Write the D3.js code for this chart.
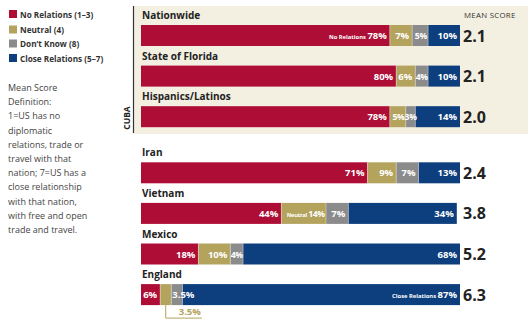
<!DOCTYPE html>
<html>
<head>
<meta charset="utf-8">
<script src="https://cdn.jsdelivr.net/npm/d3@7"></script>
<style>
  html, body { margin: 0; padding: 0; background: #fff; }
  svg { display: block; }
  text { font-family: "Open Sans", "DejaVu Sans", sans-serif; }
</style>
</head>
<body>
<svg id="chart" width="528" height="321"></svg>
<script>
// Survey groups and response shares (percent)
const groups = ["Nationwide", "State of Florida", "Hispanics/Latinos", "Iran", "Vietnam", "Mexico", "England"];
const noRelations = [78, 80, 78, 71, 44, 18, 6];
const neutral = [7, 6, 5, 9, 14, 10, 3.5];
const dontKnow = [5, 4, 3, 7, 7, 4, 3.5];
const closeRelations = [10, 10, 14, 13, 34, 68, 87];
const meanScores = ["2.1", "2.1", "2.0", "2.4", "3.8", "5.2", "6.3"];

// Segment labels; prefixes are printed in small type before the share
const segmentNames = ["No Relations (1–3)", "Neutral (4)", "Don’t Know (8)", "Close Relations (5–7)"];
const prefixes = [
  ["No Relations", null, null, null],
  [null, null, null, null],
  [null, null, null, null],
  [null, null, null, null],
  [null, "Neutral", null, null],
  [null, null, null, null],
  [null, null, null, "Close Relations"]
];
const definitionLines = [
  "Mean Score", "Definition:", "1=US has no", "diplomatic", "relations, trade or",
  "travel with that", "nation; 7=US has a", "close relationship",
  "with that nation,", "with free and open", "trade and travel."
];

const colors = ["#ae0e36", "#b3a35c", "#8c8b8b", "#0d3e7d"];

const svg = d3.select("#chart");

// Horizontal scale for shares
const x = d3.scaleLinear().domain([0, 100]).range([141, 460]);
// Vertical position of each row (Cuba group, then the other countries after a gap)
const rowY = d3.scaleLinear().domain([0, 1]).range([25, 65.6]);
const barTop = i => rowY(i) + (i >= 3 ? 15.5 : 0);
const barH = 21;

// Cuba panel background
svg.append("rect").attr("x", 134).attr("y", 6).attr("width", 394).attr("height", 128).attr("fill", "#f3efe1");
svg.append("line").attr("x1", 133.5).attr("x2", 133.5).attr("y1", 6).attr("y2", 133).attr("stroke", "#333").attr("stroke-width", 1.2);
svg.append("text")
  .attr("transform", "translate(130,118) rotate(-90)")
  .attr("text-anchor", "middle")
  .attr("font-size", 8.5).attr("font-weight", 700).attr("fill", "#222")
  .text("CUBA");

svg.append("text").attr("x", 464).attr("y", 18)
  .attr("font-size", 7.8).attr("fill", "#333").attr("letter-spacing", 0.3)
  .text("MEAN SCORE");

// Legend
const legend = svg.append("g");
segmentNames.forEach((name, k) => {
  const ly = [15, 30.5, 44.5, 59][k];
  legend.append("rect").attr("x", 9).attr("y", ly - 5).attr("width", 8).attr("height", 8).attr("fill", colors[k]);
  legend.append("text").attr("x", 20).attr("y", ly + 2.5)
    .attr("font-size", 8.2).attr("font-weight", 700).attr("fill", "#333").text(name);
});
definitionLines.forEach((line, k) => {
  svg.append("text").attr("x", 8).attr("y", 91 + k * 14.2)
    .attr("font-size", 9).attr("fill", "#444").text(line);
});

// Rows
const seriesList = [noRelations, neutral, dontKnow, closeRelations];
groups.forEach((g, i) => {
  const top = barTop(i);
  const row = svg.append("g");
  const bars = row.append("g");
  const labels = row.append("g");
  row.append("text").attr("x", 142).attr("y", top - 6)
    .attr("font-size", 10).attr("font-weight", 700).attr("fill", "#222").text(g);

  let cum = 0;
  seriesList.forEach((series, k) => {
    const v = series[i];
    const x0 = x(cum), x1 = x(cum + v);
    cum += v;
    bars.append("rect").attr("x", x0).attr("y", top).attr("width", x1 - x0).attr("height", barH)
      .attr("fill", colors[k]);
    if (k > 0) {
      bars.append("line").attr("x1", x0).attr("x2", x0).attr("y1", top).attr("y2", top + barH)
        .attr("stroke", "rgba(255,255,255,0.45)").attr("stroke-width", 0.8);
    }
    // England's neutral share is labelled below the bar
    if (i === 6 && k === 1) return;
    const t = labels.append("text").attr("y", top + barH / 2 + 3.5)
      .attr("font-size", 9.5).attr("font-weight", 700).attr("fill", "#fff");
    const p = prefixes[i][k];
    if (p) t.append("tspan").attr("font-size", 5.8).text(p + " ");
    t.append("tspan").text(v + "%");
    if (i === 6 && k === 2) {
      t.attr("x", x0 + 1).attr("text-anchor", "start");
      return;
    }
    let w = t.node().getComputedTextLength();
    const segW = x1 - x0;
    if (w + 5 <= segW) {
      t.attr("x", x1 - 3).attr("text-anchor", "end");
    } else {
      // narrow segment: tighten and centre the label
      t.attr("font-size", 8.6).attr("letter-spacing", -0.3);
      w = t.node().getComputedTextLength();
      if (w + 2 <= segW) {
        t.attr("x", x1 - 1.2).attr("text-anchor", "end");
      } else {
        t.attr("x", (x0 + x1) / 2).attr("text-anchor", "middle");
      }
    }
  });

  row.append("text").attr("x", 463).attr("y", top + barH / 2 + 6)
    .attr("font-size", 16).attr("font-weight", 700).attr("fill", "#222").text(meanScores[i]);
});

// Call-out for England's neutral share
{
  const i = 6;
  const top = barTop(i);
  const xs = x(noRelations[i] + neutral[i] / 2);
  const ann = svg.append("g");
  const tx = ann.append("text").attr("x", xs + 13).attr("y", top + barH + 10)
    .attr("font-size", 9.5).attr("font-weight", 700).attr("fill", colors[1]).text(neutral[i] + "%");
  const tw = tx.node().getComputedTextLength();
  ann.append("path")
    .attr("d", `M${xs},${top + barH} V${top + barH + 13} H${xs + 13 + tw + 1}`)
    .attr("fill", "none").attr("stroke", colors[1]).attr("stroke-width", 1);
}
</script>
</body>
</html>
